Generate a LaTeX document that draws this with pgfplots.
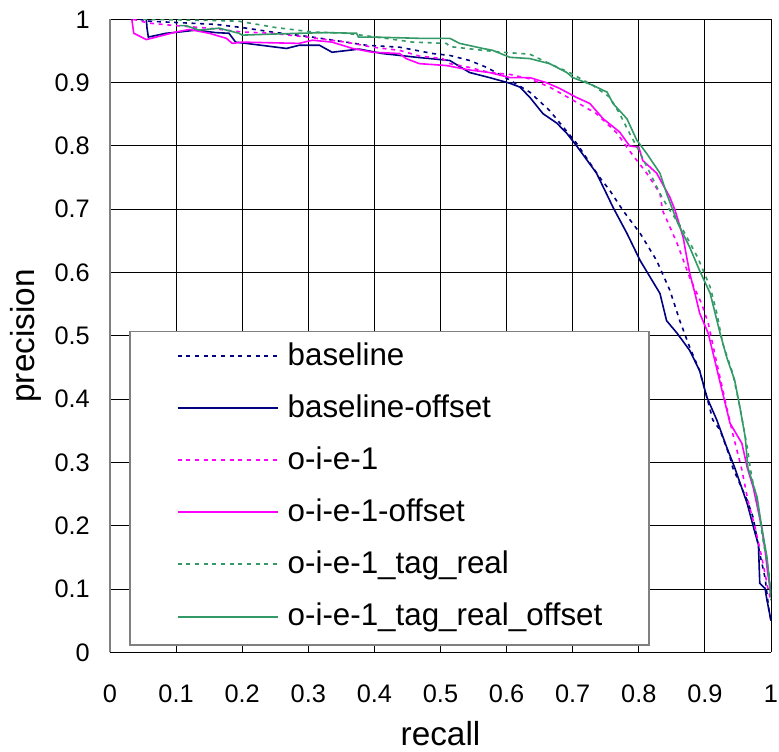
\documentclass[border=0pt]{standalone}
\usepackage{fontspec}
\setmainfont{Liberation Sans}
\usepackage{pgfplots}
\pgfplotsset{compat=1.18}
\definecolor{cnavy}{RGB}{0,0,128}
\definecolor{cmag}{RGB}{255,0,255}
\definecolor{cgreen}{RGB}{51,153,102}
\begin{document}
\begin{tikzpicture}
\begin{axis}[
  name=ax,
  scale only axis,
  width=495.75pt, height=474.75pt,
  xmin=0, xmax=1, ymin=0, ymax=1,
  xtick={0,0.1,...,1.01}, ytick={0,0.1,...,1.01},
  xticklabels={0,0.1,0.2,0.3,0.4,0.5,0.6,0.7,0.8,0.9,1},
  yticklabels={0,0.1,0.2,0.3,0.4,0.5,0.6,0.7,0.8,0.9,1},
  major tick length=0pt,
  grid=major,
  major grid style={black, line width=0.75pt},
  axis lines*=left,
  x axis line style={black, line width=0.9pt},
  y axis line style={gray, line width=1.4pt},
  tick label style={font=\fontsize{19}{22}\selectfont},
  xticklabel style={anchor=north, inner sep=0pt, yshift=-24pt},
  yticklabel style={anchor=east, inner sep=0pt, xshift=-15pt},
  xlabel={recall}, ylabel={precision},
  label style={font=\fontsize{25}{30}\selectfont, inner sep=0pt},
  xlabel style={at={(axis description cs:0.5,-0.128)}, anchor=center},
  ylabel style={at={(axis description cs:-0.128,0.5)}, anchor=center, rotate=0},
  legend style={at={(axis description cs:0.029,0.0105)}, anchor=south west,
    draw=gray, line width=1.3pt, fill=white,
    inner xsep=35pt, inner ysep=8.2pt,
    row sep=16.1pt, column sep=6.75pt,
    font=\fontsize{23.5}{28}\selectfont,
    nodes={inner sep=0pt, text height=17pt, text depth=6pt},
    cells={anchor=west}},
  legend image code/.code={\draw[#1, line width=1.5pt] (0pt,1.5pt) -- (75pt,1.5pt);},
  every axis plot/.append style={line width=1.2pt},
]
% baseline (navy dotted)
\addplot[cnavy, dash pattern=on 3pt off 3.5pt] coordinates {
(0.045,1.0) (0.06,0.997) (0.1,0.995) (0.16,0.992) (0.2,0.987) (0.245,0.98) (0.306,0.972) (0.357,0.964) (0.388,0.959) (0.438,0.956) (0.488,0.946) (0.514,0.943) (0.544,0.935) (0.57,0.924) (0.605,0.904) (0.635,0.885) (0.665,0.856) (0.706,0.804) (0.741,0.75) (0.756,0.73) (0.776,0.698) (0.802,0.662) (0.827,0.619) (0.847,0.572) (0.862,0.524) (0.877,0.482) (0.892,0.445) (0.903,0.403) (0.912,0.367) (0.923,0.351) (0.938,0.308) (0.942,0.292) (0.964,0.24) (0.973,0.213) (0.983,0.156) (0.991,0.118) (0.997,0.066) (1.0,0.05)
};
\addlegendentry{baseline}
% baseline-offset (navy solid)
\addplot[cnavy] coordinates {
(0.055,1.0) (0.056,0.986) (0.058,0.972) (0.085,0.978) (0.105,0.98) (0.13,0.983) (0.16,0.979) (0.18,0.978) (0.19,0.964) (0.206,0.962) (0.267,0.954) (0.286,0.959) (0.317,0.959) (0.336,0.948) (0.377,0.953) (0.412,0.946) (0.464,0.94) (0.514,0.935) (0.544,0.916) (0.574,0.908) (0.605,0.899) (0.62,0.893) (0.635,0.877) (0.655,0.851) (0.676,0.836) (0.691,0.82) (0.706,0.80) (0.736,0.757) (0.756,0.714) (0.761,0.703) (0.782,0.662) (0.802,0.619) (0.832,0.567) (0.842,0.524) (0.858,0.504) (0.877,0.477) (0.892,0.445) (0.903,0.403) (0.918,0.367) (0.933,0.324) (0.945,0.292) (0.964,0.235) (0.976,0.188) (0.981,0.17) (0.983,0.109) (0.991,0.101) (0.994,0.082) (1.0,0.05)
};
\addlegendentry{baseline-offset}
% o-i-e-1 (magenta dotted)
\addplot[cmag, dash pattern=on 3pt off 3.5pt] coordinates {
(0.035,1.0) (0.059,0.994) (0.1,0.99) (0.15,0.986) (0.2,0.98) (0.245,0.978) (0.297,0.972) (0.357,0.964) (0.397,0.956) (0.438,0.951) (0.468,0.942) (0.503,0.938) (0.514,0.93) (0.544,0.924) (0.574,0.916) (0.605,0.913) (0.635,0.906) (0.665,0.893) (0.706,0.869) (0.736,0.851) (0.767,0.82) (0.789,0.788) (0.812,0.757) (0.832,0.725) (0.836,0.698) (0.858,0.646) (0.877,0.592) (0.895,0.551) (0.905,0.52) (0.918,0.457) (0.933,0.387) (0.942,0.346) (0.956,0.288) (0.965,0.24) (0.976,0.197) (0.986,0.15) (0.995,0.103) (1.0,0.08)
};
\addlegendentry{o-i-e-1}
% o-i-e-1-offset (magenta solid)
\addplot[cmag] coordinates {
(0.033,1.0) (0.036,0.978) (0.055,0.968) (0.1,0.98) (0.12,0.984) (0.15,0.978) (0.176,0.97) (0.185,0.962) (0.2,0.964) (0.286,0.962) (0.306,0.967) (0.336,0.964) (0.367,0.954) (0.397,0.948) (0.438,0.946) (0.448,0.938) (0.468,0.93) (0.509,0.927) (0.544,0.92) (0.574,0.916) (0.605,0.908) (0.635,0.908) (0.66,0.90) (0.68,0.891) (0.705,0.877) (0.726,0.867) (0.746,0.843) (0.771,0.822) (0.786,0.80) (0.80,0.798) (0.806,0.777) (0.827,0.757) (0.847,0.719) (0.855,0.698) (0.867,0.656) (0.872,0.627) (0.877,0.599) (0.885,0.567) (0.892,0.536) (0.905,0.504) (0.915,0.461) (0.927,0.409) (0.938,0.362) (0.956,0.33) (0.964,0.292) (0.973,0.261) (0.986,0.197) (0.991,0.161) (0.995,0.125) (1.0,0.093)
};
\addlegendentry{o-i-e-1-offset}
% o-i-e-1_tag_real (green dotted)
\addplot[cgreen, dash pattern=on 3pt off 3.5pt] coordinates {
(0.05,1.0) (0.165,0.998) (0.195,0.997) (0.251,0.987) (0.306,0.98) (0.357,0.978) (0.403,0.972) (0.458,0.964) (0.509,0.962) (0.514,0.957) (0.564,0.951) (0.594,0.948) (0.635,0.945) (0.665,0.93) (0.695,0.916) (0.730,0.896) (0.756,0.877) (0.771,0.851) (0.786,0.82) (0.80,0.793) (0.817,0.757) (0.832,0.725) (0.844,0.703) (0.867,0.667) (0.889,0.624) (0.908,0.577) (0.918,0.536) (0.927,0.488) (0.942,0.441) (0.953,0.387) (0.964,0.324) (0.971,0.276) (0.979,0.24) (0.988,0.177) (0.997,0.125) (1.0,0.082)
};
\addlegendentry{o-i-e-1\_tag\_real}
% o-i-e-1_tag_real_offset (green solid)
\addplot[cgreen] coordinates {
(0.105,0.99) (0.115,0.99) (0.135,0.983) (0.165,0.986) (0.195,0.978) (0.2,0.975) (0.226,0.976) (0.286,0.978) (0.327,0.979) (0.373,0.978) (0.376,0.972) (0.397,0.972) (0.468,0.97) (0.514,0.97) (0.529,0.962) (0.564,0.954) (0.579,0.951) (0.605,0.94) (0.635,0.938) (0.665,0.93) (0.691,0.916) (0.70,0.908) (0.730,0.896) (0.752,0.885) (0.761,0.867) (0.782,0.843) (0.797,0.809) (0.812,0.788) (0.832,0.757) (0.842,0.725) (0.859,0.678) (0.877,0.640) (0.892,0.603) (0.908,0.567) (0.923,0.504) (0.933,0.466) (0.945,0.43) (0.953,0.387) (0.961,0.34) (0.965,0.292) (0.979,0.245) (0.986,0.197) (0.994,0.150) (1.0,0.087)
};
\addlegendentry{o-i-e-1\_tag\_real\_offset}
\end{axis}
\pgfresetboundingbox
\path[use as bounding box] ([xshift=-82.5pt,yshift=-74pt]ax.south west) rectangle ([xshift=6pt,yshift=14.5pt]ax.north east);
\end{tikzpicture}
\end{document}
